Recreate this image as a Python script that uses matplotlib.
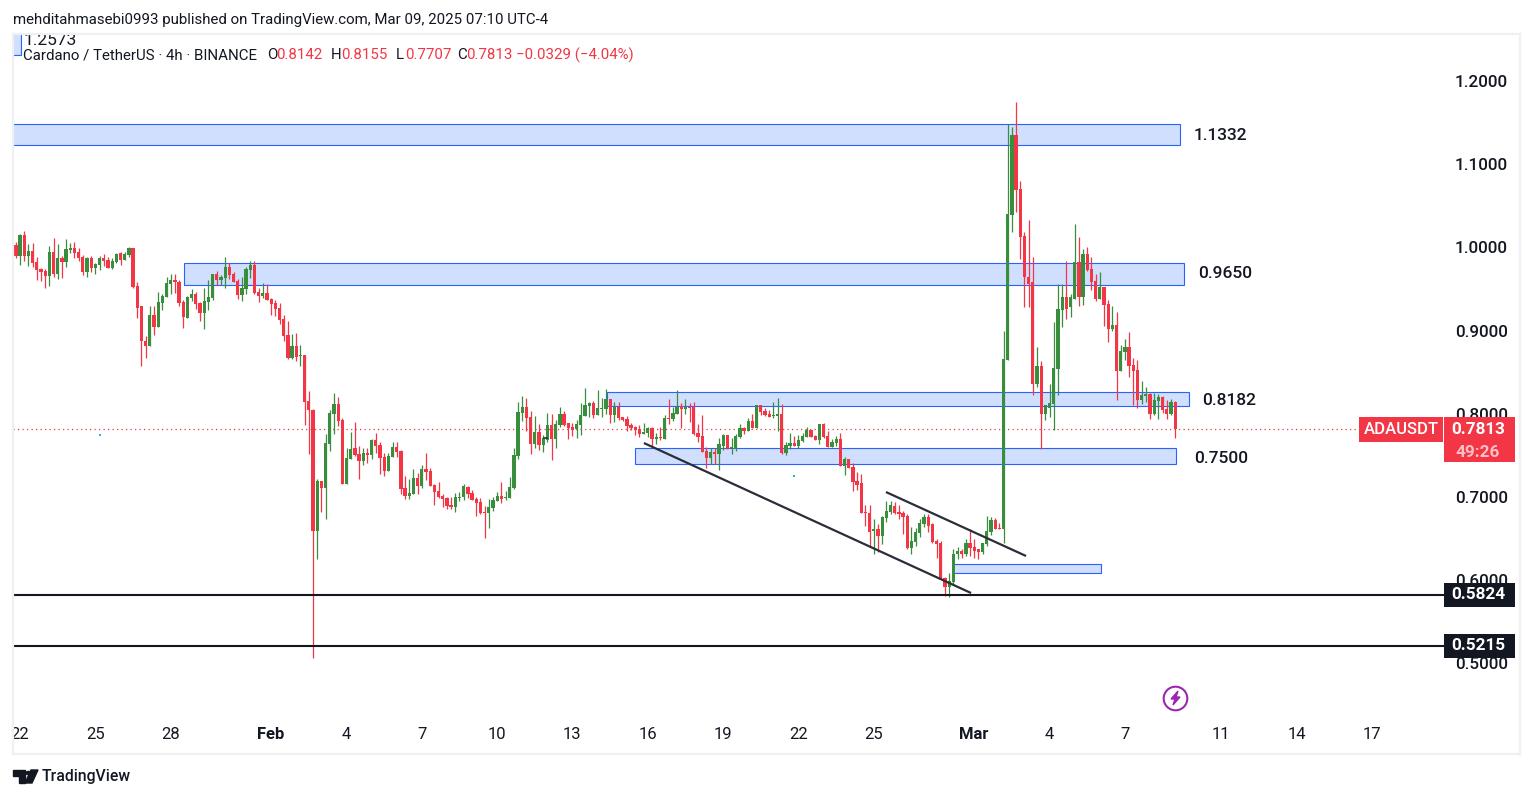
import matplotlib
matplotlib.use('Agg')
import matplotlib.pyplot as plt
from matplotlib.patches import Rectangle, Polygon, Circle
from matplotlib.lines import Line2D
import numpy as np

plt.rcParams['font.family'] = ['Roboto', 'DejaVu Sans']

# 4h candles, first one is Jan 21 20:00 (x axis is day of the year)
first_day = 21.84
opens = [
    1.003, .990, 1.015, .990, .996, .982, .974, .972, .966, .994,
    .968, .987, .982, .997, .999, .994, .988, .970, .987, .975,
    .979, .987, .985, .975, .982, .993, .985, .991, .999, .954,
    .930, .888, .881, .919, .904, .933, .940, .956, .961, .958,
    .934, .915, .939, .944, .933, .921, .934, .939, .968, .961,
    .963, .976, .968, .960, .943, .950, .973, .979, .946, .942,
    .945, .938, .933, .927, .914, .895, .867, .881, .870, .871,
    .816, .805, .659, .719, .711, .764, .800, .812, .793, .716,
    .746, .759, .752, .743, .753, .751, .769, .763, .748, .731,
    .748, .760, .755, .711, .701, .704, .723, .713, .734, .731,
    .715, .707, .701, .699, .691, .688, .699, .700, .712, .705,
    .698, .694, .682, .681, .687, .695, .701, .699, .699, .711,
    .749, .801, .808, .796, .764, .778, .763, .769, .787, .770,
    .787, .800, .789, .784, .782, .787, .797, .809, .813, .799,
    .806, .806, .818, .799, .808, .796, .794, .787, .784, .782,
    .776, .777, .783, .770, .772, .770, .795, .794, .800, .809,
    .806, .808, .808, .777, .773, .755, .747, .754, .752, .761,
    .775, .759, .758, .772, .783, .779, .791, .783, .811, .803,
    .800, .797, .797, .800, .753, .761, .765, .761, .767, .772,
    .781, .773, .769, .788, .773, .760, .765, .770, .737, .746,
    .736, .719, .717, .682, .681, .659, .661, .653, .675, .682,
    .689, .682, .681, .677, .639, .646, .657, .668, .676, .667,
    .647, .645, .603, .592, .598, .631, .635, .632, .645, .640,
    .637, .634, .644, .658, .672, .663, .662, .865, 1.039, 1.135,
    1.070, 1.014, .965, .959, .836, .858, .800, .807, .812, .854,
    .925, .941, .928, .938, .982, .941, .992, .974, .960, .938,
    .953, .932, .902, .907, .852, .874, .880, .859, .853, .817,
    .822, .824, .800, .816, .820, .806, .800, .8142,
]
closes = [
    .990, 1.015, .990, .996, .981, .973, .970, .966, .994, .968,
    .987, .982, .998, .999, .993, .987, .970, .987, .975, .980,
    .987, .984, .975, .984, .992, .985, .992, .999, .952, .927,
    .887, .881, .919, .904, .934, .942, .957, .961, .958, .933,
    .916, .940, .944, .932, .921, .936, .940, .968, .961, .964,
    .976, .967, .958, .943, .951, .974, .979, .945, .942, .945,
    .937, .932, .926, .913, .894, .867, .881, .868, .871, .814,
    .805, .659, .719, .711, .765, .801, .812, .791, .716, .747,
    .758, .751, .743, .753, .751, .769, .761, .747, .731, .749,
    .760, .754, .710, .701, .705, .723, .713, .734, .730, .713,
    .706, .700, .698, .689, .688, .700, .700, .713, .704, .697,
    .693, .681, .681, .688, .697, .701, .698, .700, .712, .751,
    .802, .808, .795, .764, .778, .763, .771, .787, .770, .788,
    .800, .787, .783, .781, .788, .799, .811, .813, .799, .807,
    .807, .818, .799, .808, .795, .793, .785, .783, .781, .776,
    .778, .783, .770, .772, .771, .795, .794, .801, .808, .806,
    .808, .807, .776, .772, .754, .747, .754, .752, .764, .775,
    .758, .760, .773, .783, .779, .791, .783, .811, .802, .799,
    .796, .799, .800, .753, .763, .765, .761, .769, .773, .781,
    .772, .769, .788, .772, .760, .766, .770, .737, .746, .735,
    .718, .715, .681, .681, .658, .661, .653, .676, .683, .691,
    .681, .680, .676, .639, .647, .658, .669, .676, .665, .646,
    .644, .602, .592, .599, .632, .635, .632, .645, .639, .635,
    .634, .645, .659, .672, .662, .662, .866, 1.040, 1.135, 1.069,
    1.013, .964, .956, .836, .858, .800, .810, .813, .855, .926,
    .941, .926, .940, .982, .941, .992, .973, .959, .938, .953,
    .931, .902, .907, .852, .876, .880, .858, .852, .817, .823,
    .824, .800, .817, .820, .805, .800, .814, .7813,
]
highs = [
    1.007, 1.016, 1.020, 1.004, 1.005, .988, .975, .974, 1.002, 1.011,
    1.004, .990, 1.010, 1.005, 1.007, .999, .991, .988, .990, .981,
    .990, .992, .988, .987, .993, .994, .994, 1.000, .999, .958,
    .930, .893, .929, .929, .946, .944, .964, .968, .968, .961,
    .937, .942, .950, .946, .934, .951, .961, .968, .972, .967,
    .988, .981, .970, .962, .964, .976, .984, .984, .951, .957,
    .956, .939, .937, .933, .919, .912, .896, .897, .883, .871,
    .828, .806, .722, .719, .776, .805, .825, .820, .795, .759,
    .778, .790, .761, .759, .759, .770, .777, .766, .753, .753,
    .766, .766, .757, .725, .722, .734, .729, .739, .753, .735,
    .716, .718, .704, .700, .700, .705, .706, .716, .713, .709,
    .700, .699, .689, .698, .700, .706, .718, .707, .724, .759,
    .814, .821, .819, .803, .797, .788, .775, .801, .800, .793,
    .808, .803, .789, .789, .793, .813, .831, .814, .815, .829,
    .819, .830, .818, .814, .814, .796, .797, .789, .785, .787,
    .789, .784, .784, .777, .784, .799, .818, .808, .829, .813,
    .818, .813, .814, .788, .799, .760, .759, .759, .771, .776,
    .775, .771, .776, .788, .784, .795, .800, .811, .811, .807,
    .805, .814, .819, .812, .766, .777, .773, .775, .777, .784,
    .781, .775, .788, .789, .779, .770, .773, .777, .748, .746,
    .741, .730, .728, .691, .691, .674, .668, .677, .695, .695,
    .694, .691, .683, .680, .664, .663, .674, .679, .680, .669,
    .650, .647, .604, .609, .638, .640, .638, .650, .661, .650,
    .638, .645, .677, .676, .675, .669, .900, 1.148, 1.145, 1.175,
    1.080, 1.018, 1.033, .989, .880, .864, .810, .836, .910, .956,
    .956, .984, .944, 1.028, 1.012, .998, 1.000, .989, .968, .971,
    .953, .937, .929, .922, .883, .890, .898, .867, .865, .840,
    .832, .825, .825, .824, .822, .817, .818, .8155,
]
lows = [
    .987, .979, .984, .978, .976, .961, .960, .951, .954, .965,
    .962, .963, .976, .993, .987, .984, .967, .965, .970, .968,
    .973, .978, .975, .974, .981, .979, .985, .988, .951, .915,
    .858, .867, .881, .895, .904, .925, .940, .944, .945, .930,
    .903, .915, .936, .926, .912, .902, .925, .937, .955, .955,
    .951, .962, .958, .938, .936, .944, .963, .944, .934, .939,
    .937, .919, .918, .908, .888, .866, .866, .864, .858, .787,
    .752, .506, .626, .682, .673, .755, .776, .785, .716, .716,
    .746, .749, .722, .739, .741, .746, .753, .728, .725, .731,
    .748, .748, .704, .698, .698, .704, .704, .711, .721, .713,
    .691, .699, .688, .685, .686, .682, .695, .697, .699, .697,
    .677, .679, .651, .663, .683, .695, .693, .697, .699, .710,
    .746, .791, .779, .752, .759, .757, .754, .766, .745, .759,
    .784, .785, .770, .773, .771, .775, .797, .796, .795, .799,
    .796, .800, .789, .790, .793, .791, .779, .781, .775, .772,
    .776, .772, .760, .764, .769, .770, .788, .791, .800, .783,
    .800, .790, .775, .766, .754, .735, .740, .740, .733, .757,
    .758, .752, .755, .771, .776, .779, .783, .783, .799, .797,
    .796, .795, .779, .752, .751, .758, .761, .759, .766, .772,
    .772, .769, .764, .771, .760, .760, .761, .737, .727, .735,
    .707, .709, .681, .665, .640, .631, .634, .643, .670, .679,
    .679, .674, .656, .637, .632, .641, .652, .664, .658, .645,
    .627, .601, .581, .580, .595, .625, .627, .629, .629, .627,
    .626, .631, .641, .654, .661, .661, .645, .865, 1.019, 1.043,
    .986, .928, .928, .823, .832, .758, .793, .796, .781, .823,
    .904, .914, .916, .938, .930, .931, .972, .949, .935, .938,
    .906, .886, .900, .817, .852, .865, .844, .811, .807, .812,
    .814, .794, .799, .794, .801, .794, .798, .7707,
]

# support / resistance zones
zone_starts = [21.0, 28.54, 45.38, 46.5, 59.16, 21.0]
zone_ends = [68.2, 68.36, 68.56, 68.04, 65.05, 22.04]
zone_lows = [1.1231, .9548, .8094, .7397, .6087, 1.2312]
zone_highs = [1.1483, .9812, .8262, .7589, .6195, 1.2700]

# zone captions
zone_texts = ['1.1332', '0.9650', '0.8182', '0.7500']
zone_text_days = [68.76, 68.92, 69.08, 68.76]
zone_text_prices = [1.1344, .9686, .8158, .7459]

# trend lines
trend_days = [[46.85, 59.88], [56.49, 62.07]]
trend_prices = [[.7649, .5846], [.7060, .6291]]

level_prices = [.5824, .5215]
last_price = .7813

price_ticks = [.5, .6, .7, .8, .9, 1.0, 1.1, 1.2]
date_ticks = [22, 25, 28, 32, 35, 38, 41, 44, 47, 50, 53, 56, 60, 63, 66, 69.84, 72.87, 75.86]
date_labels = ['22', '25', '28', 'Feb', '4', '7', '10', '13', '16', '19', '22', '25', 'Mar', '4', '7', '11', '14', '17']

GREEN = '#388e3c'
RED = '#f23645'
INK = '#131722'
BLUE = '#2962ff'
W, H = 1533, 798

opens = np.array(opens)
closes = np.array(closes)
highs = np.array(highs)
lows = np.array(lows)
days = first_day + np.arange(len(opens)) / 6
colors = [GREEN if c >= o else RED for o, c in zip(opens, closes)]

fig = plt.figure(figsize=(W / 100, H / 100), dpi=100, facecolor='white')
ax = fig.add_axes([13 / W, (H - 720) / H, 1431 / W, 686 / H])
ax.set_xlim(21.725, 78.714)
ax.set_ylim(.4320, 1.2565)
for spine in ax.spines.values():
    spine.set_visible(False)

# zones
for s, e, lo, hi in zip(zone_starts, zone_ends, zone_lows, zone_highs):
    ax.add_patch(Rectangle((s, lo), e - s, hi - lo, facecolor='#d1dffe', edgecolor=BLUE, linewidth=0.8, zorder=1))

for t, d, p in zip(zone_texts, zone_text_days, zone_text_prices):
    ax.text(d, p, t, fontsize=12.5, color=INK, va='center', ha='left', fontweight='medium')

# candles
ax.vlines(days, lows, highs, colors=colors, linewidth=0.9, zorder=3)
ax.bar(days, np.abs(closes - opens), bottom=np.minimum(opens, closes), width=0.13, color=colors, linewidth=0, zorder=3.1)

# levels and trend lines
for p in level_prices:
    ax.axhline(p, color=INK, linewidth=1.5, zorder=4)
for d, p in zip(trend_days, trend_prices):
    ax.plot(d, p, color='#2a2e39', linewidth=1.6, zorder=4, solid_capstyle='butt')
ax.plot([21.725, 75.33], [last_price, last_price], color=RED, linewidth=0.9, linestyle=(0, (1, 2.6)), zorder=2)

# small marks left on the chart
ax.scatter([25.19, 52.83], [.7745, .7252], s=4, marker='s', color='#1fbcd2', linewidths=0, zorder=4)
ax.plot([42.86, 43.0], [.771, .771], color='#2a2e39', linewidth=1.2, zorder=4)

# axis labels
ax.yaxis.tick_right()
ax.set_yticks(price_ticks)
ax.set_yticklabels(['%.4f' % p for p in price_ticks], fontsize=12.3, color=INK, fontweight='medium')
ax.set_xticks(date_ticks)
ax.set_xticklabels(date_labels, fontsize=12, color=INK)
for lab in ax.get_xticklabels():
    if lab.get_text() in ('Feb', 'Mar'):
        lab.set_fontweight('bold')
ax.tick_params(axis='both', length=0)
ax.tick_params(axis='y', pad=8)
ax.tick_params(axis='x', pad=5)

# price tags on the axis
ytr = ax.get_yaxis_transform()
for p in level_prices:
    ax.add_patch(Rectangle((1.0, p - .0144), 71 / 1431, .0288, transform=ytr, facecolor=INK, edgecolor='none', clip_on=False, zorder=6))
    ax.text(1.0 + 34 / 1431, p, '%.4f' % p, transform=ytr, color='white', fontsize=12.3, fontweight='bold', ha='center', va='center', zorder=7)
ax.add_patch(Rectangle((1.0, .7421), 71 / 1431, .0541, transform=ytr, facecolor=RED, edgecolor='none', clip_on=False, zorder=6))
ax.add_patch(Rectangle((1 - 85 / 1431, .7661), 84 / 1431, .0301, transform=ytr, facecolor=RED, edgecolor='none', clip_on=False, zorder=6))
ax.text(1 - 43 / 1431, .7808, 'ADAUSDT', transform=ytr, color='white', fontsize=12, fontweight='medium', ha='center', va='center', zorder=7)
ax.text(1.0 + 34 / 1431, .7808, '%.4f' % last_price, transform=ytr, color='white', fontsize=12.3, fontweight='bold', ha='center', va='center', zorder=7)
ax.text(1.0 + 34 / 1431, .7530, '49:26', transform=ytr, color='#fcc0c5', fontsize=12.3, fontweight='bold', ha='center', va='center', zorder=7)

# top zone value, cut by the pane edge
ax.text(22.16, 1.2487, '1.2573', fontsize=12.5, color=INK, va='center', ha='left', clip_on=True, zorder=5)


def px(x, y):
    return x / W, 1 - y / H


# header and legend row
fig.text(*px(13, 20), 'mehditahmasebi0993 published on TradingView.com, Mar 09, 2025 07:10 UTC-4', fontsize=10.8, color=INK, va='center')
legend_parts = [(23, 'Cardano / TetherUS · 4h · BINANCE', INK), (267, 'O', INK), (276, '0.8142', RED),
                (331, 'H', INK), (341, '0.8155', RED), (396, 'L', INK), (405, '0.7707', RED),
                (457, 'C', INK), (466, '0.7813', RED), (516, '−0.0329 (−4.04%)', RED)]
for x, t, c in legend_parts:
    fig.text(*px(x, 55), t, fontsize=10.8, color=c, va='center')

# pane border
for xs, ys in [((13, 13), (34, 754)), ((13, 1520), (34, 34)), ((13, 1520), (754, 754)), ((1520, 1520), (34, 754))]:
    fig.add_artist(Line2D([x / W for x in xs], [1 - y / H for y in ys], color='#eef0f4', linewidth=1.6))

# footer logo
fig.add_artist(Polygon([px(13, 770), px(25, 770), px(25, 783), px(19, 783), px(19, 776), px(13, 776)], closed=True, color=INK, transform=fig.transFigure))
fig.add_artist(Circle(px(28.5, 773), 0.0019, color=INK, transform=fig.transFigure))
fig.add_artist(Polygon([px(31, 770), px(38, 770), px(32, 783), px(25, 783)], closed=True, color=INK, transform=fig.transFigure))
fig.text(*px(42, 777), 'TradingView', fontsize=11.3, color=INK, va='center', fontweight='medium')

# lightning icon
ax.plot([68.0], [.4584], marker='o', markersize=17, markerfacecolor='white', markeredgecolor='#9c27b0', markeredgewidth=1.5, zorder=5)
fig.add_artist(Polygon([px(1178, 691), px(1171, 699), px(1175, 699), px(1173, 705), px(1180, 697), px(1176, 697)], closed=True, color='#9c27b0', transform=fig.transFigure))

fig.savefig('out.png', dpi=100)
